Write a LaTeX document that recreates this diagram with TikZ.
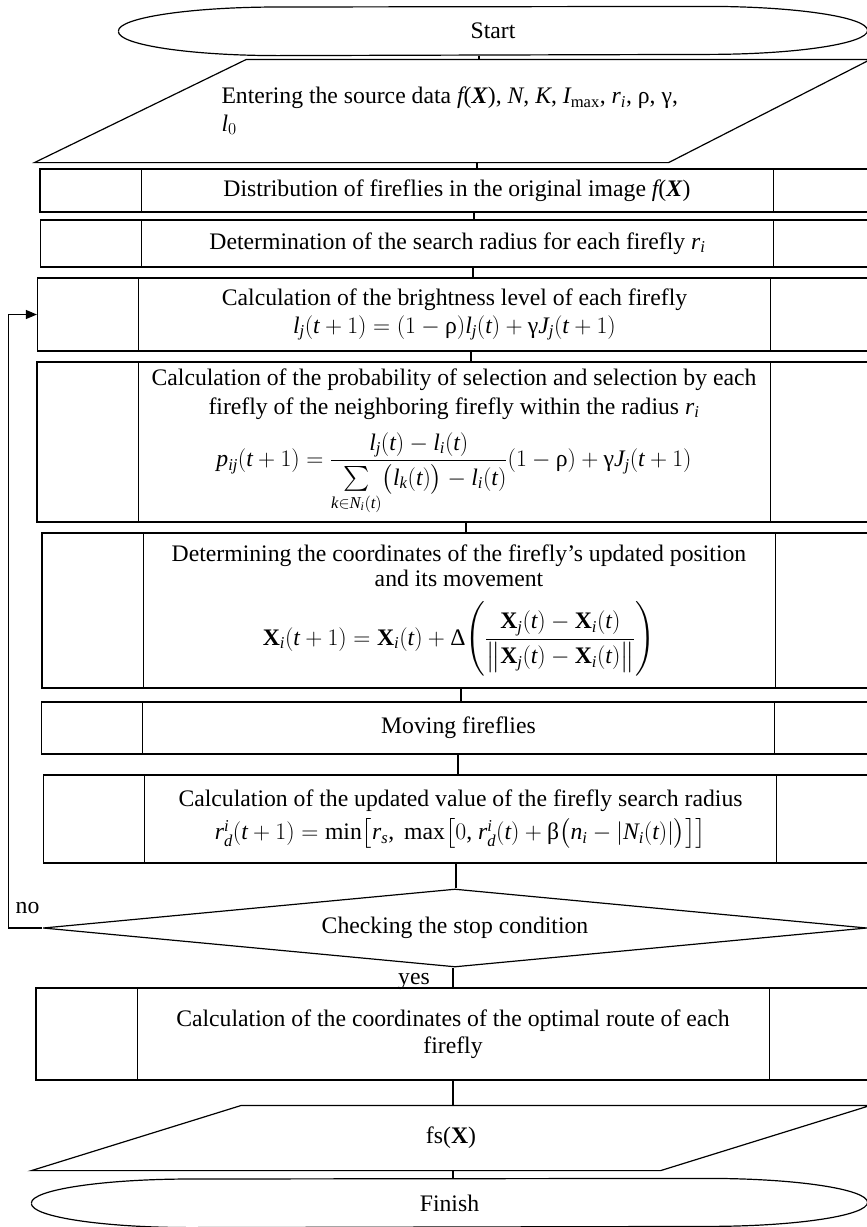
\RequirePackage{fix-cm}
\documentclass[tikz,border=0pt]{standalone}
\usepackage{amsmath}
\usepackage{fontspec}
\setmainfont{Liberation Serif}
\DeclareSymbolFont{letters}{TU}{\rmdefault}{m}{it}
\DeclareSymbolFont{operators}{TU}{\rmdefault}{m}{n}
\usetikzlibrary{shapes.geometric, arrows.meta, positioning, calc}

% outline of a terminal (start / finish)
\newcommand{\termline}[1]{%
  \draw (#1.west) arc[start angle=180, end angle=90, x radius=160pt, y radius=24pt]
    -- ([xshift=-160pt]#1.north east) arc[start angle=90, end angle=-90, x radius=160pt, y radius=24pt]
    -- ([xshift=160pt]#1.south west) arc[start angle=270, end angle=180, x radius=160pt, y radius=24pt];}
% outline of an input / output block
\newcommand{\ioline}[3]{%
  \draw ([xshift=#2]#1.north west) -- (#1.north east) -- ([xshift=-#3]#1.south east) -- (#1.south west) -- cycle;}
% vertical connector at a given x
\newcommand{\flowlink}[3]{\draw (#3,0 |- #1.south) -- (#3,0 |- #2.north);}

\begin{document}
\begin{tikzpicture}[
    x=1pt, y=-1pt,
    line width=1.2pt,
    font=\fontsize{23.7}{27.5}\selectfont,
    proc/.style={rectangle, draw, minimum width=834pt, minimum height=#1, inner sep=0pt,
        text width=700pt, align=flush center,
        path picture={
            \draw[line width=1pt] ([xshift=101pt]path picture bounding box.north west) -- ([xshift=101pt]path picture bounding box.south west);
            \draw[line width=1pt] ([xshift=-101pt]path picture bounding box.north east) -- ([xshift=-101pt]path picture bounding box.south east);
        }},
    term/.style={rectangle, minimum width=#1, minimum height=48pt, inner sep=0pt},
    iobox/.style 2 args={rectangle, minimum width=#1, minimum height=#2, inner sep=0pt},
    decision/.style={diamond, draw, aspect=10.5, minimum width=824pt, minimum height=78pt, inner sep=0pt},
    arrow/.style={-{Triangle[length=11pt, width=9pt]}},
    lbl/.style={inner sep=0pt}
]
    \useasboundingbox (0,0) rectangle (867,1227);
    \clip (0,0) rectangle (867,1227);

    \node[term=748pt] (start) at (493,31) {Start};
    \termline{start}

    \node[iobox={835pt}{102pt}, text width=462pt, align=flush left] (input) at (452.5,111)
        {Entering the source data $f$(\textbf{\textit{X}}), $N$, $K$, $I_{\text{max}}$, $r_i$, ρ, γ,\\ $l_0$};
    \ioline{input}{212pt}{202pt}

    \node[proc=43pt] (distr) at (457,190.5) {Distribution of fireflies in the original image $f$(\textbf{\textit{X}})};
    \node[proc=47pt] (search) at (457.5,243.5) {Determination of the search radius for each firefly $r_i$};
    \node[proc=73pt] (bright) at (454.5,314.5) {Calculation of the brightness level of each firefly\\
        $l_j(t+1)=(1-\text{ρ})l_j(t)+\text{γ}J_j(t+1)$};
    \node[proc=160pt] (prob) at (454,442) {Calculation of the probability of selection and selection by each\\[1pt]
        firefly of the neighboring firefly within the radius $r_i$\\[12pt]
        $\displaystyle p_{ij}(t+1)=\frac{l_j(t)-l_i(t)}{\sum\limits_{k\in N_i(t)}\bigl(l_k(t)\bigr)-l_i(t)}(1-\text{ρ})+\text{γ}J_j(t+1)$};
    \node[proc=155pt] (coord) at (459,610.5) {Determining the coordinates of the firefly's updated position\\[-2pt]
        and its movement\\[14pt]
        $\displaystyle \mathbf{X}_i(t+1)=\mathbf{X}_i(t)+\text{Δ}\Biggl(\frac{\mathbf{X}_j(t)-\mathbf{X}_i(t)}{\bigl\|\mathbf{X}_j(t)-\mathbf{X}_i(t)\bigr\|}\Biggr)$};
    \node[proc=52pt] (move) at (458.5,728) {Moving fireflies};
    \node[proc=88pt] (update) at (460.5,819) {Calculation of the updated value of the firefly search radius\\[6pt]
        $r_d^i(t+1)=\min\bigl[r_s\text{,}\ \max\bigl[0\text{,}\ r_d^i(t)+\text{β}\bigl(n_i-\lvert N_i(t)\rvert\bigr)\bigr]\bigr]$};
    \node[decision] (check) at (455,928) {Checking the stop condition};
    \node[proc=92pt] (route) at (453,1034) {Calculation of the coordinates of the optimal route of each\\ firefly};

    \node[iobox={838pt}{64pt}] (output) at (451,1138) {fs(\textbf{X})};
    \ioline{output}{210pt}{210pt}

    \node[term=835pt] (finish) at (449.5,1203) {Finish};
    \termline{finish}

    \flowlink{start}{input}{479}
    \flowlink{input}{distr}{477}
    \flowlink{distr}{search}{474}
    \flowlink{search}{bright}{473}
    \flowlink{bright}{prob}{471}
    \flowlink{prob}{coord}{466}
    \flowlink{coord}{move}{461}
    \flowlink{move}{update}{458}
    \flowlink{update}{check}{456}
    \flowlink{check}{route}{453}
    \flowlink{route}{output}{453}
    \flowlink{output}{finish}{453}

    \draw[arrow] (check.west) -- ++(-34,0) |- (bright.west);
    \node[lbl] (nolbl) at (27.5,908) {no};
    \node[lbl] (yeslbl) at (414,981) {yes};
\end{tikzpicture}
\end{document}
